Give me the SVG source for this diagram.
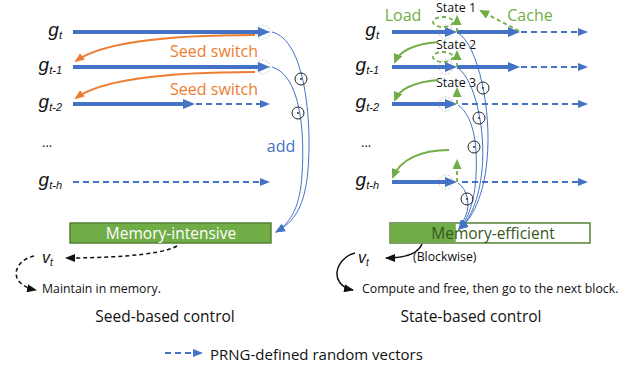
<svg xmlns="http://www.w3.org/2000/svg" width="635" height="369" viewBox="0 0 635 369">
<style>
text{font-family:"Open Sans","Noto Sans",sans-serif;}
.g{font-family:"Liberation Sans",Arial,sans-serif;font-style:italic;font-size:19px;fill:#111;}
.sub{font-size:11px;}
.thick{stroke:#4472C4;stroke-width:4;fill:none;}
.dash{stroke:#4472C4;stroke-width:1.8;stroke-dasharray:6 4;fill:none;}
.thin{stroke:#4472C4;stroke-width:1;fill:none;}
.orange{stroke:#ED7D31;stroke-width:1.8;fill:none;}
.green{stroke:#70AD47;stroke-width:1.8;fill:none;}
.gdash{stroke:#70AD47;stroke-width:1.8;fill:none;stroke-dasharray:4 3;}
.ghost{stroke:#BBBBBB;stroke-width:0.8;fill:none;stroke-dasharray:2 1.5;}
.odot circle{fill:none;stroke:#222;stroke-width:1;}
.odot .d{fill:#222;stroke:none;}
.blk{stroke:#111;stroke-width:1.5;fill:none;}
.blkd{stroke:#111;stroke-width:1.5;fill:none;stroke-dasharray:4 3;}
</style>
<defs>
<marker id="hb" viewBox="0 0 12 10" markerWidth="12" markerHeight="10" refX="4" refY="5" markerUnits="userSpaceOnUse" orient="auto"><path d="M0,0 L12,5 L0,10 z" fill="#4472C4"/></marker>
<marker id="hd" viewBox="0 0 10 8" markerWidth="10" markerHeight="8" refX="2" refY="4" markerUnits="userSpaceOnUse" orient="auto"><path d="M0,0 L10,4 L0,8 z" fill="#4472C4"/></marker>
<marker id="ht" viewBox="0 0 10 8" markerWidth="10" markerHeight="8" refX="9" refY="4" markerUnits="userSpaceOnUse" orient="auto"><path d="M0,0 L10,4 L0,8 z" fill="#4472C4"/></marker>
<marker id="ho" viewBox="0 0 10 8" markerWidth="10" markerHeight="8" refX="8" refY="4" markerUnits="userSpaceOnUse" orient="auto"><path d="M0,0 L10,4 L0,8 z" fill="#ED7D31"/></marker>
<marker id="hg" viewBox="0 0 10 9" markerWidth="10" markerHeight="9" refX="8" refY="4.5" markerUnits="userSpaceOnUse" orient="auto"><path d="M0,0 L10,4.5 L0,9 z" fill="#70AD47"/></marker>
<marker id="hk" viewBox="0 0 10 8" markerWidth="10" markerHeight="8" refX="9" refY="4" markerUnits="userSpaceOnUse" orient="auto"><path d="M0,0 L10,4 L0,8 z" fill="#111"/></marker>
</defs>
<rect width="635" height="369" fill="#fff"/>

<!-- LEFT PANEL: Seed-based control -->
<g id="seed-gt">
<text class="g" x="62" y="36" text-anchor="end">g<tspan class="sub" dy="3">t</tspan></text>
<circle class="ghost" cx="263" cy="32" r="7"/>
<line class="thick" x1="73" y1="32" x2="262" y2="32" marker-end="url(#hb)"/>
</g>
<g id="seed-gt1">
<text class="g" x="62" y="71" text-anchor="end">g<tspan class="sub" dy="3">t-1</tspan></text>
<circle class="ghost" cx="263" cy="67" r="7"/>
<line class="thick" x1="73" y1="67" x2="262" y2="67" marker-end="url(#hb)"/>
</g>
<g id="seed-gt2">
<text class="g" x="62" y="108" text-anchor="end">g<tspan class="sub" dy="3">t-2</tspan></text>
<line class="thick" x1="73" y1="104" x2="187" y2="104" marker-end="url(#hb)"/>
<line class="dash" x1="196" y1="104" x2="262" y2="104" marker-end="url(#hd)"/>
</g>
<g id="seed-dots"><text x="42" y="147" font-size="13" fill="#111">...</text></g>
<g id="seed-gth">
<text class="g" x="62" y="186" text-anchor="end">g<tspan class="sub" dy="3">t-h</tspan></text>
<line class="dash" x1="73" y1="182" x2="262" y2="182" marker-end="url(#hd)"/>
</g>
<g id="memory-intensive">
<rect x="70" y="223" width="201" height="20" fill="#70AD47" stroke="#548235" stroke-width="1.5"/>
<text x="171" y="239" font-size="15.5" fill="#fff" text-anchor="middle">Memory-intensive</text>
</g>
<g id="seed-vt">
<text class="g" x="42" y="263" style="font-size:16px">v<tspan class="sub" dy="3" style="font-size:10px">t</tspan></text>
<text x="42" y="293" font-size="12.3" fill="#111">Maintain in memory.</text>
</g>
<g id="seed-title"><text x="165" y="322" font-size="15.5" fill="#111" text-anchor="middle">Seed-based control</text></g>

<!-- RIGHT PANEL: State-based control -->
<g id="state-gt">
<text class="g" x="379" y="36" text-anchor="end">g<tspan class="sub" dy="3">t</tspan></text>
<circle class="ghost" cx="446" cy="32" r="7"/>
<line class="thick" x1="392" y1="32" x2="449" y2="32" marker-end="url(#hb)"/>
<line class="thick" x1="457" y1="32" x2="512" y2="32" marker-end="url(#hb)"/>
<line class="dash" x1="521" y1="32" x2="580" y2="32" marker-end="url(#hd)"/>
</g>
<g id="state-gt1">
<text class="g" x="379" y="71" text-anchor="end">g<tspan class="sub" dy="3">t-1</tspan></text>
<circle class="ghost" cx="446" cy="67" r="7"/>
<line class="thick" x1="392" y1="67" x2="449" y2="67" marker-end="url(#hb)"/>
<line class="thick" x1="457" y1="67" x2="512" y2="67" marker-end="url(#hb)"/>
<line class="dash" x1="521" y1="67" x2="580" y2="67" marker-end="url(#hd)"/>
</g>
<g id="state-gt2">
<text class="g" x="379" y="108" text-anchor="end">g<tspan class="sub" dy="3">t-2</tspan></text>
<circle class="ghost" cx="446" cy="104" r="7"/>
<line class="thick" x1="392" y1="104" x2="449" y2="104" marker-end="url(#hb)"/>
<line class="dash" x1="462" y1="104" x2="580" y2="104" marker-end="url(#hd)"/>
</g>
<g id="state-dots"><text x="361" y="147" font-size="13" fill="#111">...</text></g>
<g id="state-gth">
<text class="g" x="379" y="186" text-anchor="end">g<tspan class="sub" dy="3">t-h</tspan></text>
<circle class="ghost" cx="446" cy="182" r="7"/>
<line class="thick" x1="392" y1="182" x2="449" y2="182" marker-end="url(#hb)"/>
<line class="dash" x1="462" y1="182" x2="580" y2="182" marker-end="url(#hd)"/>
</g>
<g id="state-1">
<ellipse class="gdash" cx="443" cy="22" rx="10" ry="5" stroke-width="1.4"/>
<text x="456" y="12" font-size="12.5" fill="#111" text-anchor="middle">State 1</text>
</g>
<g id="state-2">
<ellipse class="gdash" cx="443" cy="57" rx="10" ry="5" stroke-width="1.4"/>
<text x="456" y="49" font-size="12.5" fill="#111" text-anchor="middle">State 2</text>
</g>
<g id="state-3">
<text x="456" y="87" font-size="12.5" fill="#111" text-anchor="middle">State 3</text>
</g>
<g id="memory-efficient">
<rect x="390" y="223" width="200" height="20" fill="#fff" stroke="#548235" stroke-width="1.5"/>
<rect x="390.75" y="223.75" width="65" height="18.5" fill="#70AD47"/>
<text x="493" y="239" font-size="15.5" fill="#375623" text-anchor="middle">Memory-efficient</text>
</g>
<g id="state-vt">
<text class="g" x="358" y="263" style="font-size:16px">v<tspan class="sub" dy="3" style="font-size:10px">t</tspan></text>
<text x="413" y="261" font-size="12.3" fill="#111">(Blockwise)</text>
<text x="362" y="293" font-size="12.3" fill="#111">Compute and free, then go to the next block.</text>
</g>
<g id="state-title"><text x="471" y="322" font-size="15.5" fill="#111" text-anchor="middle">State-based control</text></g>

<!-- labels -->
<g id="labels">
<text x="258" y="57" font-size="16" fill="#ED7D31" text-anchor="end">Seed switch</text>
<text x="258" y="95" font-size="16" fill="#ED7D31" text-anchor="end">Seed switch</text>
<text x="281" y="152" font-size="16" fill="#4472C4" text-anchor="middle">add</text>
<text x="403" y="21" font-size="16" fill="#70AD47" text-anchor="middle">Load</text>
<text x="530" y="21" font-size="16" fill="#70AD47" text-anchor="middle">Cache</text>
</g>

<!-- legend -->
<g id="legend">
<line class="dash" x1="165" y1="353" x2="195" y2="353" stroke-dasharray="5 3.5" marker-end="url(#hd)"/>
<text x="210" y="360" font-size="15" fill="#111">PRNG-defined random vectors</text>
</g>

<!-- CONNECTORS -->
<g id="connectors">
<path class="orange" d="M255,35 C180,35 105,40 76,61" marker-end="url(#ho)"/>
<path class="orange" d="M255,72 C180,72 105,77 76,98" marker-end="url(#ho)"/>
<path class="thin" d="M272,32 C305,40 312,120 308,170 C305,205 295,222 276,232" marker-end="url(#ht)"/>
<path class="thin" d="M272,67 C300,75 305,130 302,175 C300,205 292,222 276,232" marker-end="url(#ht)"/>
<path class="blkd" d="M177,246 C160,256 100,258 66,258" marker-end="url(#hk)"/>
<path class="blkd" d="M34,256 C14,260 6,284 36,290" marker-end="url(#hk)"/>

<path class="gdash" d="M457,32 L457,17" marker-end="url(#hg)"/>
<path class="gdash" d="M457,67 L457,52" marker-end="url(#hg)"/>
<path class="gdash" d="M457,104 L457,89" marker-end="url(#hg)"/>
<path class="gdash" d="M457,182 L457,161" marker-end="url(#hg)"/>
<path class="gdash" d="M519,31 L481,11" marker-end="url(#hg)"/>
<path class="green" d="M438,42 C415,44 400,50 395,62" marker-end="url(#hg)"/>
<path class="green" d="M438,80 C415,82 400,88 395,100" marker-end="url(#hg)"/>
<path class="green" d="M449,150 C420,150 400,160 393,177" marker-end="url(#hg)"/>

<path class="thin" d="M458,33 C478,45 492,110 487,160 C484,195 472,220 459,229" marker-end="url(#ht)"/>
<path class="thin" d="M458,68 C475,80 486,130 482,170 C479,200 470,220 459,229" marker-end="url(#ht)"/>
<path class="thin" d="M458,105 C472,115 478,140 476,175 C475,200 468,220 459,229" marker-end="url(#ht)"/>
<path class="thin" d="M458,183 C468,190 470,205 466,215 C463,222 461,226 459,229" marker-end="url(#ht)"/>

<path class="blk" d="M422,244 C418,254 405,258 386,258" marker-end="url(#hk)"/>
<path class="blk" d="M355,253 C335,258 328,285 353,290" marker-end="url(#hk)"/>

<g class="odot"><circle cx="301" cy="79" r="6"/><circle class="d" cx="301" cy="79" r="0.9"/></g>
<g class="odot"><circle cx="298" cy="113" r="6"/><circle class="d" cx="298" cy="113" r="0.9"/></g>
<g class="odot"><circle cx="483" cy="88" r="6"/><circle class="d" cx="483" cy="88" r="0.9"/></g>
<g class="odot"><circle cx="479" cy="118" r="6"/><circle class="d" cx="479" cy="118" r="0.9"/></g>
<g class="odot"><circle cx="474" cy="147" r="6"/><circle class="d" cx="474" cy="147" r="0.9"/></g>
<g class="odot"><circle cx="467" cy="199" r="6"/><circle class="d" cx="467" cy="199" r="0.9"/></g>
</g>
</svg>
